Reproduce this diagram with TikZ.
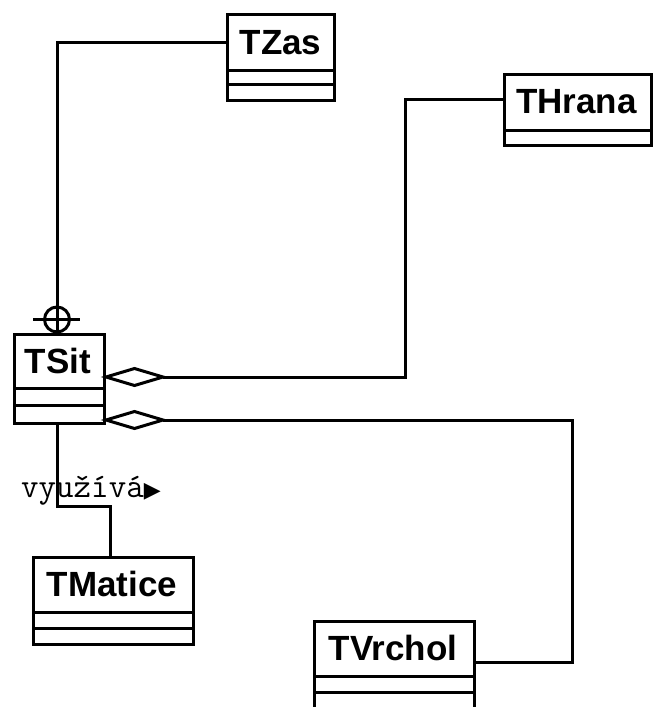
\documentclass[tikz,border=0pt]{standalone}
\usepackage{fontspec}
\setmainfont{Liberation Sans}
\newfontfamily\symfam{DejaVu Sans}
\usetikzlibrary{calc}
\begin{document}
\begin{tikzpicture}[x=1pt,y=-1pt,
  ln/.style={line width=3pt,line join=miter},
  classbox/.style={draw,line width=3pt,rectangle,inner sep=0pt,anchor=north west},
  classname/.style={inner sep=0pt,font=\bfseries\fontsize{35}{35}\selectfont},
  lbl/.style={inner sep=0pt,anchor=base west}]
\useasboundingbox[fill=white] (0,0) rectangle (655,707);

% classes
\node[classbox,minimum width=107pt,minimum height=86pt] (tzas) at (226,13) {};
\node[classname] (tzasn) at (280.5,43) {TZas};
\draw[ln] (tzas.west |- 0,70) -- (tzas.east |- 0,70);
\draw[ln] (tzas.west |- 0,84) -- (tzas.east |- 0,84);

\node[classbox,minimum width=147pt,minimum height=71pt] (thrana) at (503,73) {};
\node[classname] (thranan) at (576.5,102) {THrana};
\draw[ln] (thrana.west |- 0,130) -- (thrana.east |- 0,130);

\node[classbox,minimum width=90pt,minimum height=89pt] (tsit) at (13,333) {};
\node[classname] (tsitn) at (58,361) {TSit};
\draw[ln] (tsit.west |- 0,388) -- (tsit.east |- 0,388);
\draw[ln] (tsit.west |- 0,405) -- (tsit.east |- 0,405);

\node[classbox,minimum width=160pt,minimum height=87pt] (tmatice) at (32,556) {};
\node[classname] (tmaticen) at (112,584) {TMatice};
\draw[ln] (tmatice.west |- 0,612) -- (tmatice.east |- 0,612);
\draw[ln] (tmatice.west |- 0,628) -- (tmatice.east |- 0,628);

\node[classbox,minimum width=160pt,minimum height=92pt] (tvrchol) at (313,620) {};
\node[classname] (tvrcholn) at (393,648) {TVrchol};
\draw[ln] (tvrchol.west |- 0,676) -- (tvrchol.east |- 0,676);
\draw[ln] (tvrchol.west |- 0,692) -- (tvrchol.east |- 0,692);

% TZas -- TSit (containment)
\coordinate (ctop) at (57,333);
\draw[ln] (tzas.west |- 0,42) -- (57,42) -- (ctop);
\draw[ln] (57,319.5) circle (12.5pt);
\draw[ln] (33,319.5) -- (80,319.5);

% THrana -- TSit (aggregation)
\coordinate (d1) at (tsit.east |- 0,377);
\coordinate (d1e) at ($(d1)+(57,0)$);
\draw[ln] (thrana.west |- 0,99) -- (405,99) -- (405,377) -- (d1e);
\draw[ln,fill=white] (d1) -- ++(28.5,-8.5) -- (d1e) -- ++(-28.5,8.5) -- cycle;

% TVrchol -- TSit (aggregation)
\coordinate (d2) at (tsit.east |- 0,420);
\coordinate (d2e) at ($(d2)+(57,0)$);
\draw[ln] (tvrchol.east |- 0,662) -- (572,662) -- (572,420) -- (d2e);
\draw[ln,fill=white] (d2) -- ++(28.5,-8.5) -- (d2e) -- ++(-28.5,8.5) -- cycle;

% TSit -- TMatice (uses)
\draw[ln] (tsit.south -| 57,0) -- (57,506) -- (110,506) -- (tmatice.north -| 110,0);
\node[lbl] (uses) at (21,497) {\fontsize{34}{34}\ttfamily využívá\symfam\fontsize{22}{22}\selectfont ▶};
\end{tikzpicture}
\end{document}
